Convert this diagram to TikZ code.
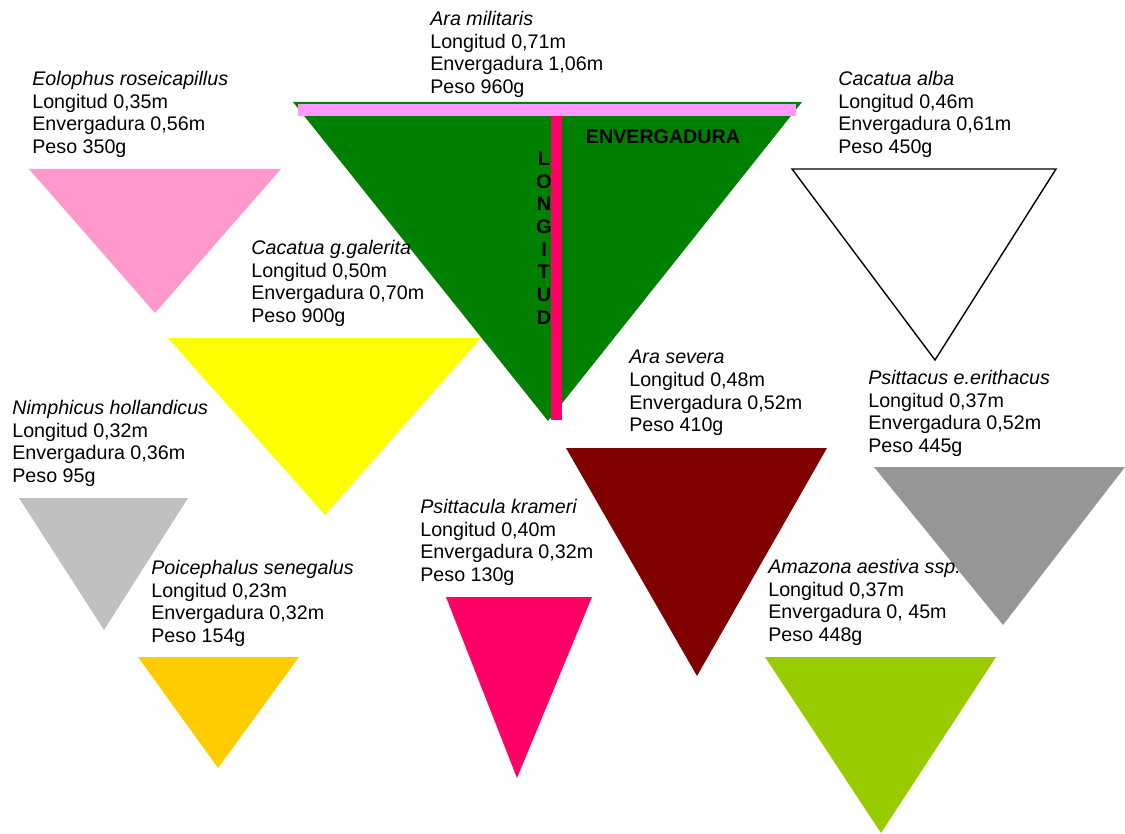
\documentclass[tikz,border=0pt]{standalone}
\usepackage{fontspec}
\setmainfont{Liberation Sans}
\definecolor{militar}{HTML}{008000}
\definecolor{lilac}{HTML}{FF99FF}
\definecolor{rosered}{HTML}{FF0066}
\definecolor{pinkbird}{HTML}{FF99CC}
\definecolor{yellowbird}{HTML}{FFFF00}
\definecolor{silverbird}{HTML}{C0C0C0}
\definecolor{orangebird}{HTML}{FFCC00}
\definecolor{maroonbird}{HTML}{800000}
\definecolor{greybird}{HTML}{969696}
\definecolor{limebird}{HTML}{99CC00}

\begin{document}
\begin{tikzpicture}[x=0.02cm, y=-0.02cm,
	ficha/.style={anchor=north west, inner sep=0pt, align=left, font=\fontsize{11.2}{12.9}\selectfont},
	rotulo/.style={inner sep=0pt, font=\fontsize{11.2}{12.9}\selectfont\bfseries}]
	\useasboundingbox (0,0) rectangle (1125,834);
	% Ara militaris con las medidas
	\fill[militar] (293,102) -- (802,102) -- (548,421) -- cycle;
	\fill[lilac] (298,104) rectangle (796,116);
	\fill[rosered] (551,116) rectangle (562,420);
	\draw (663,137) node[rotulo](envergadura) {ENVERGADURA};
	\draw (544,238) node[rotulo, align=center](longitud) {L\\O\\N\\G\\I\\T\\U\\D};
	% resto de aves
	\fill[pinkbird] (29,169) -- (281,169) -- (155,313) -- cycle;
	\draw[line width=0.8pt, fill=white] (792,169) -- (1056,169) -- (935,360) -- cycle;
	\fill[yellowbird] (168,338) -- (481,338) -- (325,515) -- cycle;
	\fill[silverbird] (19,498) -- (188,498) -- (104,630) -- cycle;
	\fill[orangebird] (138,657) -- (299,657) -- (218,768) -- cycle;
	\fill[rosered] (446,597) -- (592,597) -- (517,778) -- cycle;
	\fill[maroonbird] (566,448) -- (827,448) -- (697,676) -- cycle;
	\fill[greybird] (874,467) -- (1125,467) -- (1003,625) -- cycle;
	\fill[limebird] (765,657) -- (996,657) -- (881,833) -- cycle;
	% fichas
	\draw (430,11) node[ficha](militaris) {\textit{Ara militaris}\\Longitud 0,71m\\Envergadura 1,06m\\Peso 960g};
	\draw (32,71) node[ficha](eolophus) {\textit{Eolophus roseicapillus}\\Longitud 0,35m\\Envergadura 0,56m\\Peso 350g};
	\draw (838,71) node[ficha](alba) {\textit{Cacatua alba}\\Longitud 0,46m\\Envergadura 0,61m\\Peso 450g};
	\draw (251,240) node[ficha](galerita) {\textit{Cacatua g.galerita}\\Longitud 0,50m\\Envergadura 0,70m\\Peso 900g};
	\draw (629,350) node[ficha](severa) {\textit{Ara severa}\\Longitud 0,48m\\Envergadura 0,52m\\Peso 410g};
	\draw (868,370) node[ficha](psittacus) {\textit{Psittacus e.erithacus}\\Longitud 0,37m\\Envergadura 0,52m\\Peso 445g};
	\draw (12,400) node[ficha](nimphicus) {\textit{Nimphicus hollandicus}\\Longitud 0,32m\\Envergadura 0,36m\\Peso 95g};
	\draw (420,499) node[ficha](psittacula) {\textit{Psittacula krameri}\\Longitud 0,40m\\Envergadura 0,32m\\Peso 130g};
	\draw (151,560) node[ficha](poicephalus) {\textit{Poicephalus senegalus}\\Longitud 0,23m\\Envergadura 0,32m\\Peso 154g};
	\draw (768,559) node[ficha](amazona) {\textit{Amazona aestiva ssp.}\\Longitud 0,37m\\Envergadura 0, 45m\\Peso 448g};
\end{tikzpicture}
\end{document}
